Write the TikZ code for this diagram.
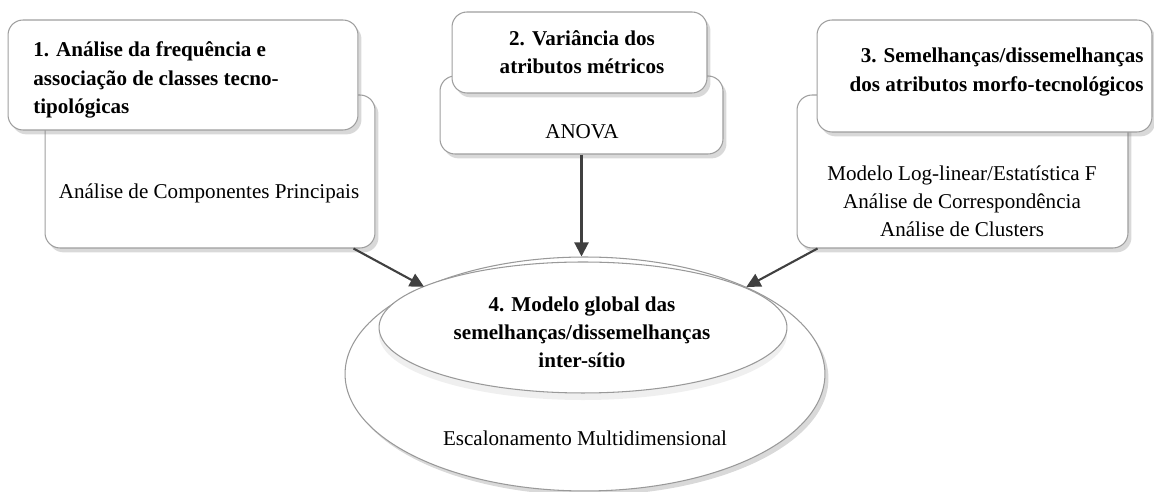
\documentclass[tikz,border=0pt]{standalone}
\usepackage{fontspec}
\setmainfont{Liberation Serif}
\usetikzlibrary{arrows.meta,shadows,shapes.geometric}

\begin{document}
\begin{tikzpicture}[x=0.02cm,y=-0.02cm]
	\tikzset{caixa/.style={draw=gray!75, fill=white, rounded corners=0.3cm, line width=0.6pt, inner sep=0pt,
			drop shadow={opacity=0.3, shadow xshift=2pt, shadow yshift=-2.5pt}},
		elipse/.style={ellipse, draw=gray!80, fill=white, inner sep=0pt, line width=0.6pt},
		seta/.style={-{Triangle[length=8pt,width=8pt]}, line width=1.2pt, draw=black!75},
		txt/.style={font=\fontsize{12}{16}\selectfont, align=center, inner sep=0pt},
		tit/.style={txt, font=\fontsize{12}{16}\selectfont\bfseries}}
	\useasboundingbox (0,0) rectangle (1154,492);
	
	%Caixa 1
	\node[caixa, minimum width=6.6cm, minimum height=3.06cm] (c1b) at (210,171.5) {};
	\node[caixa, minimum width=7cm, minimum height=2.2cm]    (c1a) at (183,75) {};
	\node[tit, align=left, anchor=west] (t1a) at (33,80)
	{1. Análise da frequência e\\associação de classes tecno-\\tipológicas};
	\node[txt] (t1b) at (209,193) {Análise de Componentes Principais};
	
	%Caixa 2
	\node[caixa, minimum width=5.66cm, minimum height=1.56cm] (c2b) at (581.5,115) {};
	\node[caixa, minimum width=5.1cm, minimum height=1.62cm]  (c2a) at (579.5,52.5) {};
	\node[tit] (t2a) at (582,52.5) {2. Variância dos\\atributos métricos};
	\node[txt] (t2b) at (582,132) {ANOVA};
	
	%Caixa 3
	\node[caixa, minimum width=6.62cm, minimum height=3.06cm] (c3b) at (962.5,171.5) {};
	\node[caixa, minimum width=6.7cm, minimum height=2.24cm]  (c3a) at (984.5,76) {};
	\node[tit, align=right, anchor=east] (t3a) at (1144,72)
	{3. Semelhanças/dissemelhanças\\dos atributos morfo-tecnológicos};
	\node[txt] (t3b) at (962,201.5)
	{Modelo Log-linear/Estatística F\\Análise de Correspondência\\Análise de Clusters};
	
	%Modelo global
	\node[elipse, minimum width=9.6cm, minimum height=4.68cm,
	drop shadow={opacity=0.3, shadow xshift=2pt, shadow yshift=-2.5pt}] (e1) at (585,374) {};
	\node[elipse, minimum width=8.16cm, minimum height=2.62cm,
	drop shadow={opacity=0.12, shadow xshift=0pt, shadow yshift=-4pt}] (e2) at (583,327.5) {};
	\node[tit] (t4a) at (582,332) {4. Modelo global das\\semelhanças/dissemelhanças\\inter-sítio};
	\node[txt] (t4b) at (585,438) {Escalonamento Multidimensional};
	
	%Setas
	\draw[seta] ([xshift=-0.44cm]c1b.south east) -- (e1);
	\draw[seta] (c2b.south) -- (c2b.south |- e1.north);
	\draw[seta] ([xshift=0.42cm]c3b.south west) -- (e1);
	
\end{tikzpicture}
\end{document}
